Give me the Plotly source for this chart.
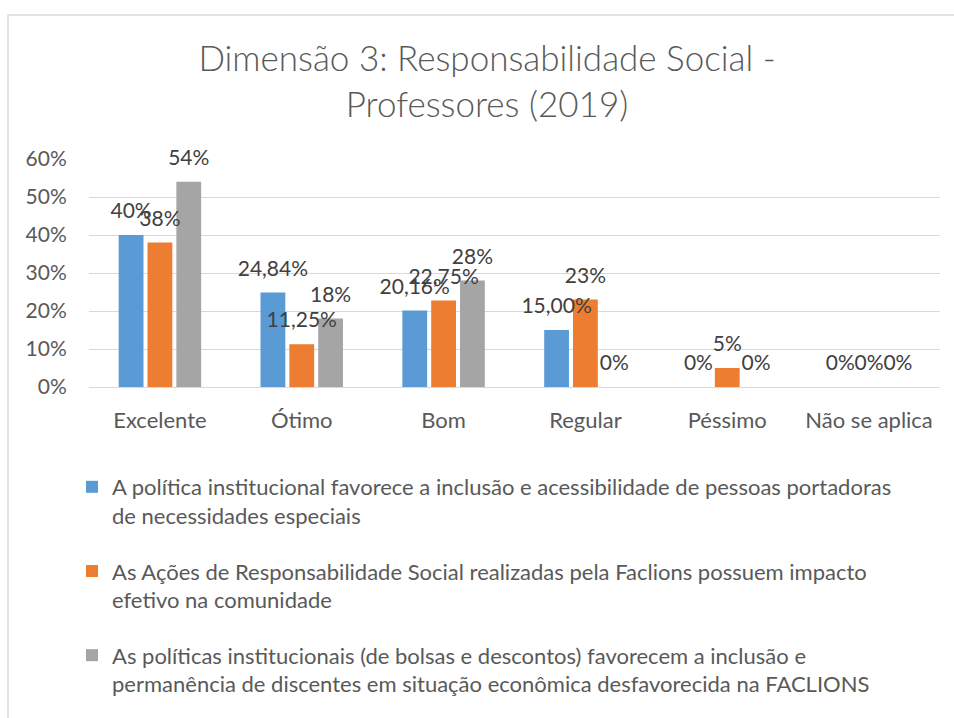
import plotly.graph_objects as go

categories = ["Excelente", "Ótimo", "Bom", "Regular", "Péssimo", "Não se aplica"]

series_names = [
    "A política institucional favorece a inclusão e acessibilidade de pessoas portadoras<br>de necessidades especiais",
    "As Ações de Responsabilidade Social realizadas pela Faclions possuem impacto<br>efetivo na comunidade",
    "As políticas institucionais (de bolsas e descontos) favorecem a inclusão e<br>permanência de discentes em situação econômica desfavorecida na FACLIONS",
]

values_s1 = [0.40, 0.2484, 0.2016, 0.15, 0.0, 0.0]
values_s2 = [0.38, 0.1125, 0.2275, 0.23, 0.05, 0.0]
values_s3 = [0.54, 0.18, 0.28, 0.0, 0.0, 0.0]

labels_s1 = ["40%", "24,84%", "20,16%", "15,00%", "0%", "0%"]
labels_s2 = ["38%", "11,25%", "22,75%", "23%", "5%", "0%"]
labels_s3 = ["54%", "18%", "28%", "0%", "0%", "0%"]

y_ticks = [0, 0.1, 0.2, 0.3, 0.4, 0.5, 0.6]
y_ticktext = ["0%", "10%", "20%", "30%", "40%", "50%", "60%"]

colors = ["#5B9BD5", "#ED7D31", "#A5A5A5"]
all_values = [values_s1, values_s2, values_s3]
all_labels = [labels_s1, labels_s2, labels_s3]

W, H = 954, 718
ml, mr, mt, mb = 89, 14, 159, 331
FONT = "Lato"

fig = go.Figure()
for i in range(3):
    fig.add_trace(go.Bar(
        x=categories, y=all_values[i], name=series_names[i],
        marker=dict(color=colors[i], line=dict(width=0)),
        offsetgroup=str(i), legendgroup=str(i),
        hoverinfo="skip",
    ))
for i in range(3):
    fig.add_trace(go.Scatter(
        x=categories, y=all_values[i], mode="markers+text",
        text=all_labels[i], textposition="top center",
        marker=dict(size=17, opacity=0),
        textfont=dict(family=FONT, size=21, color="#404040"),
        offsetgroup=str(i), legendgroup="lbl" + str(i),
        showlegend=False, cliponaxis=False,
        hoverinfo="skip",
    ))

# chart border (Excel chart area frame)
px_x = lambda p: (p - ml) / (W - ml - mr)
px_y = lambda p: (H - mb - p) / (H - mt - mb)
fig.add_shape(type="rect", xref="paper", yref="paper",
              x0=px_x(8), x1=px_x(W + 20), y0=px_y(H + 20), y1=px_y(15),
              line=dict(color="#D9D9D9", width=1.5), fillcolor="rgba(0,0,0,0)",
              layer="above")

fig.update_layout(
    width=W, height=H,
    margin=dict(l=ml, r=mr, t=mt, b=mb),
    paper_bgcolor="white", plot_bgcolor="white",
    barmode="group", bargap=0.39, bargroupgap=0.14,
    scattermode="group", scattergap=0.39,
    font=dict(family=FONT, color="#595959", size=20),
    title=dict(
        text="Dimensão 3: Responsabilidade Social -<br>Professores (2019)",
        x=487 / W, xanchor="center", xref="container",
        y=1 - 71 / H, yanchor="top", yref="container",
        font=dict(family=FONT, size=35, color="#595959", weight=300),
    ),
    xaxis=dict(
        showgrid=False, showline=False, zeroline=False,
        ticks="outside", ticklen=14, tickcolor="rgba(0,0,0,0)",
        tickfont=dict(family=FONT, size=22, color="#595959"),
    ),
    yaxis=dict(
        range=[0, 0.6], tickvals=y_ticks, ticktext=y_ticktext,
        showgrid=True, gridcolor="#D9D9D9", gridwidth=1.3,
        zeroline=True, zerolinecolor="#D9D9D9", zerolinewidth=1.3,
        showline=False,
        ticks="outside", ticklen=17, tickcolor="rgba(0,0,0,0)",
        tickfont=dict(family=FONT, size=21, color="#595959"),
    ),
    showlegend=True,
    legend=dict(
        orientation="v", x=px_x(72), xanchor="left",
        y=px_y(466), yanchor="top",
        font=dict(family=FONT, size=22, color="#595959"),
        valign="top", tracegroupgap=24, bgcolor="rgba(0,0,0,0)",
        traceorder="grouped",
    ),
)

fig.write_html(
    "out.html",
    config={"displayModeBar": False},
    post_script="document.body.style.margin='0';document.body.style.overflow='hidden';",
)
